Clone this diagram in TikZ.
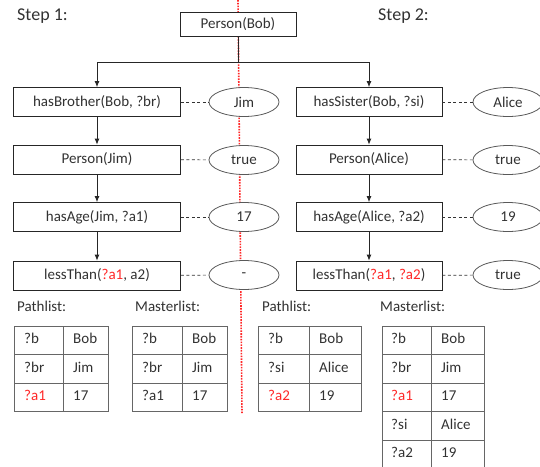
\documentclass[tikz,border=0pt]{standalone}
\usepackage{fontspec}
\setmainfont{Carlito}
\usetikzlibrary{shapes.geometric,arrows.meta}
\definecolor{hl}{RGB}{255,40,40}
\definecolor{ink}{RGB}{50,50,50}

\begin{document}
\begin{tikzpicture}[x=1pt,y=-1pt,>={Latex[length=6pt,width=5pt]},
    every node/.style={text=ink,font=\fontsize{15}{18}\selectfont},
    box/.style={draw=black!85,fill=white,line width=0.8pt,minimum height=29pt,inner sep=0pt},
    lbox/.style={box,minimum width=167pt},
    rbox/.style={box,minimum width=146pt},
    val/.style={ellipse,draw=black!65,fill=white,line width=0.8pt,minimum width=70pt,minimum height=29pt,inner sep=0pt},
    link/.style={black!80,line width=0.7pt,dash pattern=on 3pt off 2.5pt},
    flow/.style={black!85,line width=0.8pt},
    cell/.style={anchor=west,inner sep=0pt,text height=10pt,text depth=3pt},
    tabline/.style={draw=black!60,line width=0.8pt}]
            \useasboundingbox (0,0) rectangle (540,466);
            \clip (0,0) rectangle (540,466);

            \coordinate (divtop) at (238,0);
            \coordinate (divbot) at (242,413);
            \draw[hl,line width=1.6pt,dash pattern=on 1.6pt off 1.2pt] (divtop) -- (divbot);

            \node[cell,font=\fontsize{18}{21}\selectfont] (step1) at (17,17) {Step 1:};
            \node[cell,font=\fontsize{18}{21}\selectfont] (step2) at (378,17) {Step 2:};

            \node[box,minimum width=116pt,minimum height=24pt] (bob) at (238,24) {Person(Bob)};
            \coordinate (fork) at (238,62);

            \node[lbox] (brother) at (97,102) {hasBrother(Bob, ?br)};
            \node[lbox] (jimp) at (97,159.5) {Person(Jim)};
            \node[lbox] (agejim) at (97,217) {hasAge(Jim, ?a1)};
            \node[lbox] (less1) at (97,275.5) {lessThan(\textcolor{hl}{?a1}, a2)};

            \node[val] (jim) at (244,102) {Jim};
            \node[val] (true1) at (244,160) {true};
            \node[val] (age17) at (244,217) {17};
            \node[val] (none) at (244,275) {-};

            \node[rbox] (sister) at (369,102) {hasSister(Bob, ?si)};
            \node[rbox] (alicep) at (369,159.5) {Person(Alice)};
            \node[rbox] (agealice) at (369,217) {hasAge(Alice, ?a2)};
            \node[rbox] (less2) at (369,275.5) {lessThan(\textcolor{hl}{?a1}, \textcolor{hl}{?a2})};

            \node[val] (alice) at (508,102) {Alice};
            \node[val] (true2) at (508,160) {true};
            \node[val] (age19) at (508,217) {19};
            \node[val] (true3) at (508,275) {true};

            \draw[flow] (bob) -- (fork);
            \draw[flow,->] (fork) -| (brother);
            \draw[flow,->] (fork) -| (sister);
            \draw[flow,->] (brother) -- (jimp);
            \draw[flow,->] (jimp) -- (agejim);
            \draw[flow,->] (agejim) -- (less1);
            \draw[flow,->] (sister) -- (alicep);
            \draw[flow,->] (alicep) -- (agealice);
            \draw[flow,->] (agealice) -- (less2);

            \draw[link] (brother) -- (jim);
            \draw[link] (jimp) -- (true1);
            \draw[link] (agejim) -- (age17);
            \draw[link] (less1) -- (none);
            \draw[link] (sister) -- (alice);
            \draw[link] (alicep) -- (true2);
            \draw[link] (agealice) -- (age19);
            \draw[link] (less2) -- (true3);

            \node[cell] (path1) at (17,308) {Pathlist:};
            \draw[tabline] (14,326) rectangle (108,411.5) (63,326) -- (63,411.5)
                (14,354.5) -- (108,354.5) (14,383) -- (108,383);
            \node[cell] (pa1) at (24,340.25) {?b};
            \node[cell] (pb1) at (73,340.25) {Bob};
            \node[cell] (pa2) at (24,368.75) {?br};
            \node[cell] (pb2) at (73,368.75) {Jim};
            \node[cell,text=hl] (pa3) at (24,397.25) {?a1};
            \node[cell] (pb3) at (73,397.25) {17};

            \node[cell] (master1) at (135,308) {Masterlist:};
            \draw[tabline] (132,326) rectangle (227,411.5) (182,326) -- (182,411.5)
                (132,354.5) -- (227,354.5) (132,383) -- (227,383);
            \node[cell] (ma1) at (142,340.25) {?b};
            \node[cell] (mb1) at (192,340.25) {Bob};
            \node[cell] (ma2) at (142,368.75) {?br};
            \node[cell] (mb2) at (192,368.75) {Jim};
            \node[cell] (ma3) at (142,397.25) {?a1};
            \node[cell] (mb3) at (192,397.25) {17};

            \node[cell] (path2) at (262,308) {Pathlist:};
            \draw[tabline] (258,326) rectangle (361,411.5) (309,326) -- (309,411.5)
                (258,354.5) -- (361,354.5) (258,383) -- (361,383);
            \node[cell] (qa1) at (268,340.25) {?b};
            \node[cell] (qb1) at (319,340.25) {Bob};
            \node[cell] (qa2) at (268,368.75) {?si};
            \node[cell] (qb2) at (319,368.75) {Alice};
            \node[cell,text=hl] (qa3) at (268,397.25) {?a2};
            \node[cell] (qb3) at (319,397.25) {19};

            \node[cell] (master2) at (380,308) {Masterlist:};
            \draw[tabline] (382,326) rectangle (484,468.5) (431,326) -- (431,468.5)
                (382,354.5) -- (484,354.5) (382,383) -- (484,383)
                (382,411.5) -- (484,411.5) (382,440) -- (484,440);
            \node[cell] (na1) at (391,340.25) {?b};
            \node[cell] (nb1) at (441,340.25) {Bob};
            \node[cell] (na2) at (391,368.75) {?br};
            \node[cell] (nb2) at (441,368.75) {Jim};
            \node[cell,text=hl] (na3) at (391,397.25) {?a1};
            \node[cell] (nb3) at (441,397.25) {17};
            \node[cell] (na4) at (391,425.75) {?si};
            \node[cell] (nb4) at (441,425.75) {Alice};
            \node[cell] (na5) at (391,454.25) {?a2};
            \node[cell] (nb5) at (441,454.25) {19};
        \end{tikzpicture}
\end{document}
